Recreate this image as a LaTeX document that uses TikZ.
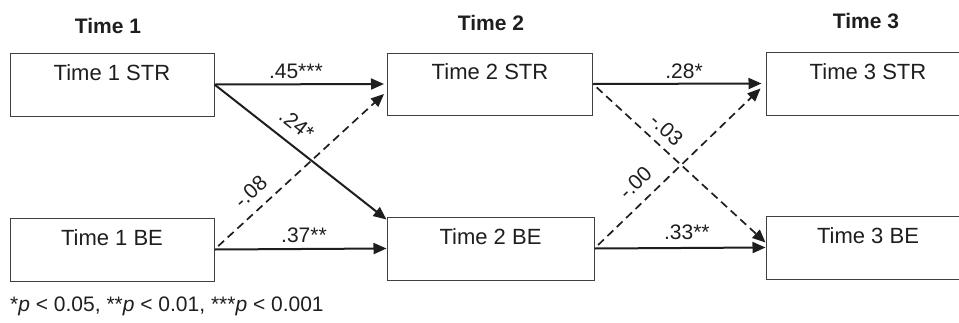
\documentclass[tikz,border=0pt]{standalone}
\usepackage{fontspec}
\setmainfont{Liberation Sans}
\usetikzlibrary{arrows.meta}
\definecolor{ink}{RGB}{30,30,30}
\begin{document}
\begin{tikzpicture}[x=1pt,y=-1pt,
  box/.style={draw=ink!85, line width=1pt, minimum width=204pt, minimum height=63pt, inner sep=0pt,
    text height=16pt, text depth=25pt, font=\fontsize{22}{26}\selectfont, text=ink},
  hdr/.style={font=\bfseries\fontsize{21}{25}\selectfont, anchor=base, text=ink, inner sep=0pt},
  lbl/.style={font=\fontsize{21}{25}\selectfont, text=ink, inner sep=1pt},
  sol/.style={draw=ink, line width=2pt, -{Triangle[length=13pt,width=11pt]}},
  dsh/.style={draw=ink, line width=1.7pt, dash pattern=on 8pt off 5pt, dash phase=8pt, -{Triangle[length=13pt,width=11pt]}},
]
\useasboundingbox (0,0) rectangle (959,322);
% headers
\node[hdr] (h1) at (108,33) {Time 1};
\node[hdr] (h2) at (491,30) {Time 2};
\node[hdr] (h3) at (866,28) {Time 3};
% boxes
\node[box] (s1) at (112,84.5) {Time 1 STR};
\node[box] (b1) at (112,249.5) {Time 1 BE};
\node[box, minimum width=205pt, minimum height=62pt] (s2) at (490,84) {Time 2 STR};
\node[box, minimum width=207pt] (b2) at (490.5,248.5) {Time 2 BE};
\node[box] (s3) at (868,83.5) {Time 3 STR};
\node[box] (b3) at (868,247.5) {Time 3 BE};
% horizontal paths
\draw[sol] (s1.east) -- ([xshift=-3pt]s2.west) node[lbl, pos=0.48, anchor=base, yshift=6pt] {.45***};
\draw[sol] (b1.east) -- (b2.west) node[lbl, pos=0.52, anchor=base, yshift=6pt] {.37**};
\draw[sol] (s2.east) -- ([xshift=-4pt]s3.west) node[lbl, pos=0.54, anchor=base, yshift=5.5pt] {.28*};
\draw[sol] (b2.east) -- (b3.west) node[lbl, pos=0.54, anchor=base, yshift=8pt] {.33**};
% cross-lagged paths
\draw[sol] (s1.east) -- ([yshift=-3pt]b2.north west) node[lbl, pos=0.41, sloped, above=10pt] {.24*};
\draw[dsh] (b1.east) -- ([xshift=-3pt,yshift=-10pt]s2.west) node[lbl, pos=0.285, sloped, above=9pt] {-.08};
\draw[dsh] (s2.east) -- ([yshift=5pt]b3.west) node[lbl, pos=0.363, sloped, above=7pt] {-.03};
\draw[dsh] (b2.east) -- ([xshift=-5pt,yshift=-5pt]s3.west) node[lbl, pos=0.326, sloped, above=10pt] {-.00};
% footnote
\node[lbl, anchor=base west, inner sep=0pt] (fn) at (10,311) {*\textit{p} < 0.05, **\textit{p} < 0.01, ***\textit{p} < 0.001};
\end{tikzpicture}
\end{document}
